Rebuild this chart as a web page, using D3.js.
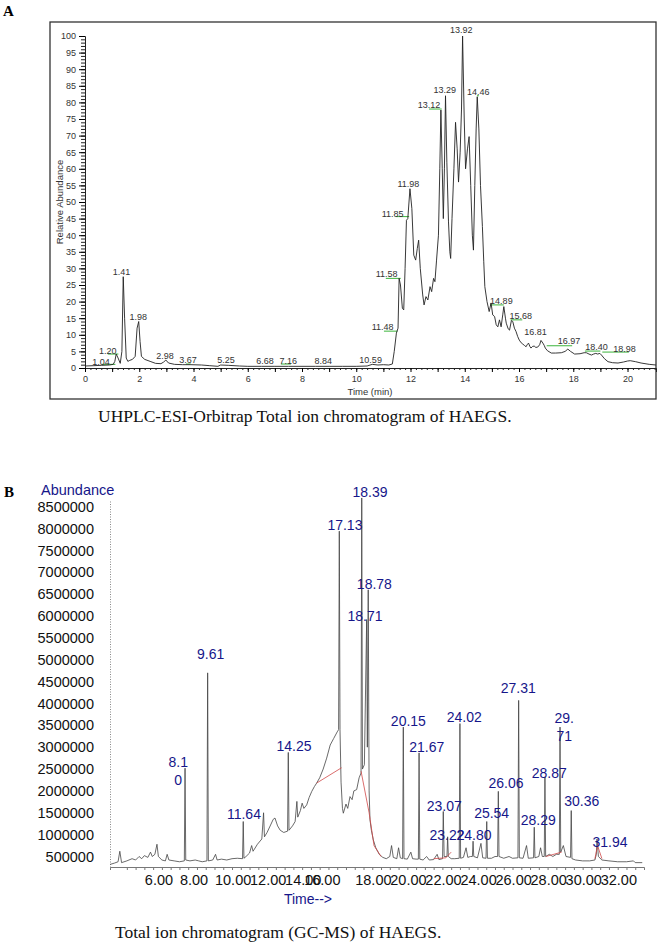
<!DOCTYPE html>
<html>
<head>
<meta charset="utf-8">
<script src="https://cdn.jsdelivr.net/npm/d3@7"></script>
<style>
body { margin: 0; background: #fff; }
svg { display: block; }
.sans { font-family: Arial, 'Liberation Sans', sans-serif; }
.serif { font-family: 'Times New Roman', 'Liberation Serif', serif; }
</style>
</head>
<body>
<div class="vis"></div>
<script>
// ---- panel A: UHPLC TIC (time in min, relative abundance %)
const traceA = [[0,0.6],[0.3,0.7],[0.6,0.8],[0.9,0.9],[1.04,1.1],[1.1,2],[1.15,4.2],[1.22,3],[1.3,1.4],[1.36,5],[1.41,27.5],[1.46,15],[1.52,3],[1.58,2],[1.65,2.3],[1.75,2.6],[1.85,3.5],[1.92,12],[1.98,14],[2.03,8],[2.08,3.5],[2.2,2.6],[2.4,2],[2.6,1.4],[2.8,1.3],[2.9,1.8],[2.98,2.4],[3.08,1.5],[3.3,1.1],[3.6,1.0],[3.9,1.0],[4.3,0.9],[4.6,0.7],[4.9,0.5],[5.0,0.9],[5.3,0.8],[5.7,0.6],[6.0,0.5],[6.5,0.5],[7.0,0.5],[7.5,0.5],[8.0,0.5],[8.5,0.5],[9.0,0.5],[9.5,0.5],[10.0,0.5],[10.4,0.6],[10.59,1.1],[10.8,0.9],[11.0,1.0],[11.2,0.9],[11.33,1.2],[11.4,5],[11.48,10.5],[11.54,12],[11.58,27],[11.63,25],[11.7,18],[11.75,17.5],[11.8,30],[11.85,44.5],[11.9,45],[11.98,54],[12.05,48],[12.12,34],[12.19,32.5],[12.25,36],[12.3,38.5],[12.36,30],[12.45,22],[12.5,19],[12.57,21.5],[12.64,20.5],[12.72,24.5],[12.78,23],[12.85,27],[12.9,26],[12.96,32.5],[13.03,40],[13.08,60],[13.12,77.7],[13.17,60],[13.21,45],[13.25,60],[13.29,82],[13.34,62],[13.4,44],[13.45,35],[13.48,33],[13.53,45],[13.6,60],[13.66,74],[13.72,66],[13.77,56],[13.83,65],[13.88,78],[13.92,100],[13.98,75],[14.03,60],[14.1,66],[14.16,69.7],[14.22,55],[14.28,40],[14.32,35.5],[14.37,55],[14.42,72],[14.46,81.7],[14.52,72],[14.58,55],[14.65,42.6],[14.7,32],[14.74,24.5],[14.82,20],[14.9,17],[14.97,19.6],[15.03,16],[15.1,15.5],[15.16,13],[15.22,12.4],[15.28,14.5],[15.34,12.4],[15.4,16],[15.44,18.5],[15.5,15],[15.53,13.5],[15.6,11.8],[15.65,11.4],[15.72,14.3],[15.77,14],[15.83,12],[15.89,11],[15.95,9.5],[16.01,8.4],[16.08,7.6],[16.14,7.2],[16.2,6.8],[16.26,6.4],[16.3,7],[16.35,7.5],[16.4,6.5],[16.44,6],[16.5,6.5],[16.56,6.6],[16.62,6.2],[16.69,6.3],[16.76,7],[16.81,8.3],[16.88,7.5],[16.93,6.8],[16.97,6],[17.05,5.2],[17.19,4.5],[17.35,4.5],[17.56,4.6],[17.7,5],[17.8,5.7],[17.9,5],[18.05,4.2],[18.25,4.3],[18.4,4.6],[18.48,4.6],[18.58,4.2],[18.67,3.9],[18.75,4.2],[18.83,4.4],[18.9,4.2],[18.98,4.4],[19.04,3.9],[19.15,2.8],[19.28,1.9],[19.45,1.6],[19.65,1.5],[19.85,1.8],[20.0,2.1],[20.1,2.2],[20.3,1.9],[20.5,1.5],[20.8,1.1],[21.05,0.9]]

// label text, label centre time, label baseline value
const labelsA = [['1.04',0.59,0.9],['1.20',0.84,4.2],['1.41',1.35,27.9],['1.98',1.96,14.5],['2.98',2.95,2.6],['3.67',3.8,1.4],['5.25',5.2,1.4],['6.68',6.64,1.2],['7.16',7.49,1.2],['8.84',8.78,1.2],['10.59',10.53,1.4],['11.48',10.97,11.4],['11.58',11.12,27.3],['11.85',11.34,45.6],['11.98',11.92,54.6],['13.12',12.68,78.2],['13.29',13.26,82.7],['13.92',13.87,100.8],['14.46',14.5,82.2],['14.89',15.35,19.2],['15.68',16.06,14.7],['16.81',16.61,9.9],['16.97',17.84,7.2],['18.40',18.86,5.4],['18.98',19.89,4.9]]

// integration baselines: start, end, level
const greenA = [[0.62,1.12,1.1],[0.84,1.23,4.2],[3.72,3.9,1.2],[7.22,7.59,1.2],[11.02,11.52,11.1],[11.09,11.64,27],[11.45,11.95,45.6],[12.68,13.15,78],[14.45,14.52,82],[14.93,15.44,19],[15.69,16.12,14.5],[17.02,17.96,6.7],[18.43,19.0,5.1],[19.07,20.05,4.8]]

const yTicksA = d3.range(0, 101, 5)
const xTicksA = d3.range(0, 21, 2)

// ---- panel B: GC-MS TIC (time in min, abundance in millions)
const traceB = [[4.05,0.32],[4.3,0.35],[4.5,0.38],[4.6,0.62],[4.7,0.36],[5.0,0.4],[5.3,0.45],[5.5,0.42],[5.7,0.5],[5.85,0.45],[6.0,0.52],[6.2,0.48],[6.35,0.6],[6.45,0.5],[6.6,0.55],[6.72,0.78],[6.8,0.5],[7.0,0.42],[7.2,0.4],[7.3,0.55],[7.4,0.42],[7.7,0.4],[8.0,0.38],[8.28,0.4],[8.32,2.52],[8.36,0.42],[8.6,0.4],[8.9,0.42],[9.1,0.4],[9.3,0.38],[9.57,0.4],[9.61,4.70],[9.65,0.4],[9.9,0.42],[10.06,0.55],[10.15,0.42],[10.4,0.44],[10.7,0.42],[11.0,0.45],[11.3,0.46],[11.6,0.45],[11.64,1.3],[11.68,0.46],[11.8,0.5],[12.0,0.58],[12.12,0.75],[12.2,0.62],[12.45,0.78],[12.7,0.9],[12.8,1.5],[12.85,0.95],[13.0,1.05],[13.2,1.22],[13.35,1.35],[13.45,1.38],[13.6,1.2],[13.75,1.1],[13.95,1.05],[14.17,1.08],[14.21,2.88],[14.25,1.1],[14.45,1.2],[14.6,1.3],[14.7,1.76],[14.75,1.4],[14.9,1.55],[15.0,1.72],[15.1,1.6],[15.26,1.68],[15.4,1.85],[15.55,1.99],[15.7,2.1],[15.83,2.18],[16.0,2.3],[16.2,2.5],[16.4,2.75],[16.6,3.05],[16.8,3.2],[17.0,3.35],[17.08,3.4],[17.12,7.94],[17.16,3.4],[17.22,2.2],[17.3,1.6],[17.35,1.49],[17.5,1.7],[17.6,1.6],[17.73,1.87],[17.85,1.8],[17.95,2.0],[18.11,2.03],[18.25,2.3],[18.36,2.41],[18.40,8.70],[18.44,2.5],[18.55,2.6],[18.68,5.92],[18.72,3.0],[18.77,6.60],[18.82,2.0],[18.87,1.34],[18.95,1.1],[19.06,0.88],[19.2,0.7],[19.4,0.55],[19.6,0.48],[19.8,0.45],[20.0,0.5],[20.1,0.75],[20.2,0.48],[20.4,0.45],[20.5,0.7],[20.6,0.47],[20.73,0.45],[20.77,3.46],[20.81,0.45],[21.0,0.44],[21.2,0.6],[21.3,0.45],[21.5,0.44],[21.63,0.44],[21.67,2.87],[21.71,0.44],[21.9,0.42],[22.1,0.5],[22.25,0.42],[22.5,0.43],[22.7,0.55],[22.8,0.43],[23.01,0.45],[23.05,1.53],[23.1,0.5],[23.26,0.5],[23.3,0.95],[23.34,0.5],[23.5,0.45],[23.7,0.45],[23.96,0.46],[24.0,3.54],[24.04,0.46],[24.2,0.48],[24.35,0.7],[24.45,0.48],[24.6,0.5],[24.71,0.5],[24.75,0.85],[24.79,0.5],[25.0,0.47],[25.2,0.8],[25.3,0.47],[25.49,0.46],[25.53,1.30],[25.57,0.46],[25.8,0.46],[26.0,0.5],[26.15,0.5],[26.19,1.99],[26.23,0.5],[26.5,0.46],[26.8,0.5],[27.0,0.46],[27.31,0.47],[27.35,4.07],[27.39,0.47],[27.6,0.46],[27.8,0.75],[27.9,0.46],[28.2,0.47],[28.24,1.17],[28.28,0.47],[28.5,0.5],[28.6,0.7],[28.7,0.5],[28.81,0.5],[28.85,2.32],[28.89,0.5],[29.1,0.55],[29.3,0.5],[29.5,0.55],[29.67,0.55],[29.71,3.46],[29.75,0.6],[29.9,0.75],[30.05,0.5],[30.31,0.48],[30.35,1.55],[30.39,0.45],[30.6,0.42],[31.0,0.4],[31.4,0.4],[31.7,0.42],[31.78,0.55],[31.82,0.9],[31.9,0.5],[32.1,0.42],[32.5,0.4],[33.0,0.38],[33.5,0.38],[33.9,0.4],[34.0,0.36],[34.4,0.36]]

// label text (\n = line break), label centre time, label centre value (millions)
const labelsB = [['8.1\n0',7.93,2.65],['9.61',9.78,5.12],['11.64',11.68,1.48],['14.25',14.54,3.03],['17.13',17.44,8.07],['18.39',18.87,8.83],['18.78',19.12,6.74],['18.71',18.59,5.99],['20.15',21.06,3.61],['21.67',22.11,3.0],['24.02',24.25,3.69],['27.31',27.33,4.35],['29.\n71',29.95,3.67],['28.87',29.1,2.41],['26.06',26.63,2.18],['30.36',30.95,1.76],['23.07',23.11,1.66],['25.54',25.81,1.49],['28.29',28.47,1.34],['23.22',23.26,1.0],['24.80',24.8,1.0],['31.94',32.56,0.84]]

// red integration baselines
const redB = [[[15.83,2.18],[17.25,2.53]],[[18.36,2.45],[18.82,1.5],[19.1,0.75],[19.5,0.5]],[[22.5,0.45],[23.2,0.47],[23.5,0.6]],[[28.9,0.5],[29.8,0.6]],[[31.7,0.45],[31.85,0.75],[32.1,0.45]]]

const yTicksB = d3.range(500000, 8500001, 500000)
const xTicksB = d3.range(6, 33, 2)

const W = 660
const H = 945
const navy = '#16168a'

const svg = d3.select('.vis').append('svg')
	.attr('width', W)
	.attr('height', H)

svg.append('rect').attr('width', W).attr('height', H).attr('fill', '#fff')

function setupA() {
	const g = svg.append('g').attr('class', 'panel-a sans')

	const x = d3.scaleLinear().domain([0, 21.05]).range([85, 656])
	const y = d3.scaleLinear().domain([0, 100]).range([368, 36])

	g.append('text')
		.attr('class', 'serif')
		.attr('x', 3).attr('y', 16)
		.attr('font-size', 15).attr('font-weight', 'bold')
		.text('A')

	g.append('rect')
		.attr('x', 50).attr('y', 22)
		.attr('width', 606).attr('height', 377)
		.attr('fill', 'none').attr('stroke', '#333').attr('stroke-width', 1.3)

	// minor ticks
	g.append('g')
		.attr('transform', `translate(${x.range()[0]},0)`)
		.call(d3.axisLeft(y).tickValues(d3.range(0, 101, 1)).tickSize(4).tickFormat(''))
		.call(s => s.select('.domain').remove())
		.selectAll('line').attr('stroke', '#222')

	const yAxis = g.append('g')
		.attr('transform', `translate(${x.range()[0]},0)`)
		.call(d3.axisLeft(y).tickValues(yTicksA).tickSize(6).tickPadding(3))
	yAxis.select('.domain').attr('stroke', '#222')
	yAxis.selectAll('text').attr('font-size', 9).attr('fill', '#333').attr('font-family', 'Arial, Liberation Sans, sans-serif')

	g.append('g')
		.attr('transform', `translate(0,${y(0)})`)
		.call(d3.axisBottom(x).tickValues(d3.range(0, 21.01, 0.2)).tickSize(2).tickFormat(''))
		.call(s => s.select('.domain').remove())
		.selectAll('line').attr('stroke', '#222')

	const xAxis = g.append('g')
		.attr('transform', `translate(0,${y(0)})`)
		.call(d3.axisBottom(x).tickValues(d3.range(0, 21, 1)).tickSize(4).tickPadding(4)
			.tickFormat(d => xTicksA.includes(d) ? d : ''))
	xAxis.select('.domain').attr('stroke', '#222')
	xAxis.selectAll('text').attr('font-size', 9).attr('fill', '#333').attr('font-family', 'Arial, Liberation Sans, sans-serif')

	g.append('text')
		.attr('transform', `translate(63,${(y(0) + y(100)) / 2}) rotate(-90)`)
		.attr('text-anchor', 'middle')
		.attr('font-size', 9.5).attr('fill', '#333')
		.text('Relative Abundance')

	g.append('text')
		.attr('x', 370).attr('y', 395)
		.attr('text-anchor', 'middle')
		.attr('font-size', 9.5).attr('fill', '#333')
		.text('Time (min)')

	const line = d3.line().x(d => x(d[0])).y(d => y(d[1]))

	g.append('g').selectAll('line').data(greenA).enter()
		.append('line')
		.attr('x1', d => x(d[0])).attr('x2', d => x(d[1]))
		.attr('y1', d => y(d[2])).attr('y2', d => y(d[2]))
		.attr('stroke', '#3cb43c').attr('stroke-width', 1)

	g.append('path')
		.attr('d', line(traceA))
		.attr('fill', 'none').attr('stroke', '#222').attr('stroke-width', 0.9)

	g.append('g').selectAll('text').data(labelsA).enter()
		.append('text')
		.attr('x', d => x(d[1])).attr('y', d => y(d[2]))
		.attr('text-anchor', 'middle')
		.attr('font-size', 9).attr('fill', '#333')
		.text(d => d[0])

	g.append('text')
		.attr('class', 'serif')
		.attr('x', 98).attr('y', 422)
		.attr('font-size', 17.5).attr('fill', '#111')
		.text('UHPLC-ESI-Orbitrap Total ion chromatogram of HAEGS.')
}

function setupB() {
	const g = svg.append('g').attr('class', 'panel-b sans')

	const x = d3.scaleLinear().domain([4.04, 34.5]).range([110, 644])
	const y = d3.scaleLinear().domain([260000, 8630000]).range([867, 501])
	const yM = v => y(v * 1e6)

	g.append('text')
		.attr('class', 'serif')
		.attr('x', 4).attr('y', 497)
		.attr('font-size', 15).attr('font-weight', 'bold')
		.text('B')

	g.append('text')
		.attr('x', 41).attr('y', 495)
		.attr('font-size', 14.5).attr('fill', navy)
		.text('Abundance')

	const yAxis = g.append('g')
		.attr('transform', `translate(${x.range()[0]},0)`)
		.call(d3.axisLeft(y).tickValues(yTicksB).tickSize(0).tickPadding(16).tickFormat(d3.format('d')))
	yAxis.select('.domain').attr('stroke', '#888').attr('stroke-dasharray', '1,1.5')
	yAxis.selectAll('text').attr('font-size', 14.5).attr('fill', '#111').attr('font-family', 'Arial, Liberation Sans, sans-serif')

	const xAxis = g.append('g')
		.attr('transform', `translate(0,${y.range()[0]})`)
		.call(d3.axisBottom(x).tickValues(d3.range(5, 34.1, 0.5)).tickSize(3).tickFormat(''))
	xAxis.select('.domain').attr('stroke', '#777')
	xAxis.selectAll('line').attr('stroke', '#777')

	// the 16.00 label sits over 14.00 in the original print
	const xLabels = g.append('g')
		.attr('transform', `translate(0,${y.range()[0]})`)
		.call(d3.axisBottom(x).tickValues(xTicksB).tickSize(0).tickPadding(8).tickFormat(d3.format('.2f')))
	xLabels.select('.domain').remove()
	xLabels.selectAll('text').attr('font-size', 14.5).attr('fill', '#111').attr('font-family', 'Arial, Liberation Sans, sans-serif')
		.attr('text-anchor', 'start')
		.attr('dx', d => d === 16 ? -16 : 0)

	g.append('text')
		.attr('x', 308).attr('y', 904)
		.attr('text-anchor', 'middle')
		.attr('font-size', 14).attr('fill', navy)
		.text('Time-->')

	const line = d3.line().x(d => x(d[0])).y(d => yM(d[1]))

	g.append('path')
		.attr('d', line(traceB))
		.attr('fill', 'none').attr('stroke', '#444').attr('stroke-width', 0.8)

	g.append('g').selectAll('path').data(redB).enter()
		.append('path')
		.attr('d', d => line(d))
		.attr('fill', 'none').attr('stroke', '#d04848').attr('stroke-width', 0.8)

	const lab = g.append('g').selectAll('text').data(labelsB).enter()
		.append('text')
		.attr('x', d => x(d[1])).attr('y', d => yM(d[2]))
		.attr('text-anchor', 'middle')
		.attr('dominant-baseline', 'central')
		.attr('font-size', 14).attr('fill', navy)
	lab.selectAll('tspan').data(d => d[0].split('\n').map(t => ({ t, x: x(d[1]) }))).enter()
		.append('tspan')
		.attr('x', d => d.x)
		.attr('dy', (d, i) => i === 0 ? 0 : 18)
		.text(d => d.t)

	g.append('text')
		.attr('class', 'serif')
		.attr('x', 115).attr('y', 938)
		.attr('font-size', 17.5).attr('fill', '#111')
		.text('Total ion chromatogram (GC-MS) of HAEGS.')
}

setupA()
setupB()
</script>
</body>
</html>
